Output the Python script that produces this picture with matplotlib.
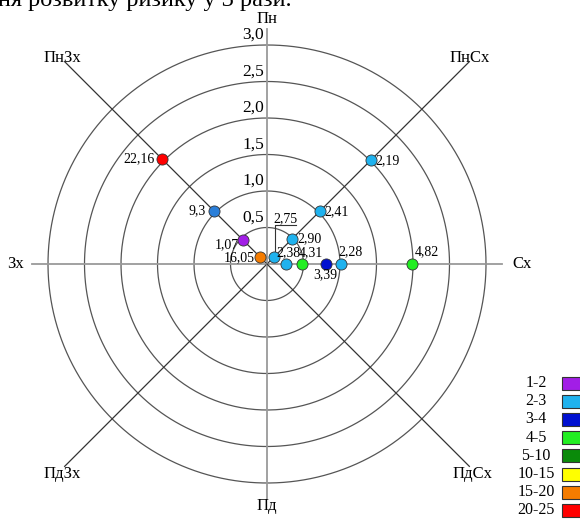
import numpy as np
import matplotlib
matplotlib.use('Agg')
import matplotlib.pyplot as plt

plt.rcParams['font.family'] = ['Liberation Serif', 'DejaVu Serif']

# directions, degrees counter-clockwise from east
directions = ['Сх', 'ПнСх', 'Пн', 'ПнЗх', 'Зх', 'ПдЗх', 'Пд', 'ПдСх']
dir_angles = [0, 45, 90, 135, 180, 225, 270, 315]

ring_values = [0.5, 1.0, 1.5, 2.0, 2.5, 3.0]
ring_labels = ['0,5', '1,0', '1,5', '2,0', '2,5', '3,0']

# points on the rose
pt_angle = [45, 45, 45, 45, 0, 0, 0, 0, 0, 135, 135, 135, 135]
pt_radius = [2.01, 1.02, 0.49, 0.14, 1.99, 1.01, 0.81, 0.48, 0.26, 2.04, 1.03, 0.46, 0.14]
pt_labels = ['2,19', '2,41', '2,90', '2,75', '4,82', '2,28', '3,39', '4,31', '2,38',
             '22,16', '9,3', '1,07', '16,05']
pt_class = ['2-3', '2-3', '2-3', '2-3', '4-5', '2-3', '3-4', '4-5', '2-3',
            '20-25', 'blue', '1-2', '15-20']

legend_labels = ['1-2', '2-3', '3-4', '4-5', '5-10', '10-15', '15-20', '20-25']
legend_colors = ['#A21EE6', '#1FB2EE', '#0010D0', '#22EE22', '#0A8A0A', '#FFFF00', '#F57C00', '#FF0000']
class_colors = dict(zip(legend_labels, legend_colors))
class_colors['blue'] = '#2B7FD9'

W, H = 580, 520
cx, cy = 267, 264      # centre in pixels (from top-left)
S = 73.0               # pixels per unit

fig = plt.figure(figsize=(W / 100, H / 100), dpi=100)
ax = fig.add_axes([0, 0, 1, 1])
ax.set_xlim(-cx / S, (W - cx) / S)
ax.set_ylim(-(H - cy) / S, cy / S)
ax.axis('off')

# rings
t = np.linspace(0, 2 * np.pi, 400)
for r in ring_values:
    ax.plot(r * np.cos(t), r * np.sin(t), color='#555555', lw=0.9, zorder=1)

# axes lines
for ang in dir_angles:
    a = np.radians(ang)
    if ang % 90 == 0:
        L = 3.22
        ax.plot([0, L * np.cos(a)], [0, L * np.sin(a)], color='#9a9a9a', lw=1.3, zorder=1)
    else:
        L = 3.92
        ax.plot([0, L * np.cos(a)], [0, L * np.sin(a)], color='#333333', lw=0.9, zorder=1)

# direction labels
dir_pos = {'Сх': (3.5, 0), 'Зх': (-3.45, 0), 'Пн': (0, 3.36), 'Пд': (0, -3.32),
           'ПнСх': (2.78, 2.82), 'ПнЗх': (-2.8, 2.82), 'ПдЗх': (-2.8, -2.88), 'ПдСх': (2.82, -2.88)}
for d in directions:
    x, y = dir_pos[d]
    ax.text(x, y, d, fontsize=12, ha='center', va='center', zorder=3)

# ring labels
for r, lab in zip(ring_values, ring_labels):
    ax.text(-0.04, r + 0.03, lab, fontsize=12.5, ha='right', va='bottom', zorder=3)

# points
for ang, r, cl in zip(pt_angle, pt_radius, pt_class):
    a = np.radians(ang)
    ax.plot(r * np.cos(a), r * np.sin(a), 'o', ms=8, color=class_colors[cl],
            mec='#333333', mew=0.6, zorder=5)

# value labels: offset in pixels and alignment
offsets = {
    '2,19': (5, 0, 'left'), '2,41': (5, 0, 'left'), '2,90': (5, 0, 'left'),
    '2,75': (11, 38, 'center'), '4,82': (15, 12, 'center'), '2,28': (10, 12, 'center'),
    '3,39': (-1, -11, 'center'), '4,31': (9, 11, 'center'), '2,38': (2, 11, 'center'),
    '22,16': (-7, 0, 'right'), '9,3': (-8, 0, 'right'), '1,07': (-16, -4, 'center'),
    '16,05': (-5, -1, 'right'),
}
for ang, r, lab in zip(pt_angle, pt_radius, pt_labels):
    a = np.radians(ang)
    x, y = r * np.cos(a), r * np.sin(a)
    dx, dy, ha = offsets[lab]
    ax.text(x + dx / S, y + dy / S, lab, fontsize=10, ha=ha, va='center', zorder=6)
    if lab == '2,75':
        # underline and leader line to the point
        ux = x + 1 / S
        uy = y + 32 / S
        ax.plot([ux, ux, ux + 21 / S], [y + 5 / S, uy, uy], color='#333333', lw=0.8, zorder=4)

# legend
for i, (lab, col) in enumerate(zip(legend_labels, legend_colors)):
    ypx = 383 + 18.2 * i
    fig.text(536 / W, 1 - ypx / H, lab, fontsize=11.5, ha='center', va='center')
    fig.patches.append(plt.Rectangle((562 / W, 1 - (ypx + 6.5) / H), 20 / W, 13 / H,
                                     transform=fig.transFigure, facecolor=col,
                                     edgecolor='#333333', lw=0.8))

# cut-off line of text at the top
fig.text(-0.004, 1 - 6 / H, 'ня розвитку ризику у 3 рази.', fontsize=17.5, va='baseline')

fig.savefig('out.png', dpi=100)
